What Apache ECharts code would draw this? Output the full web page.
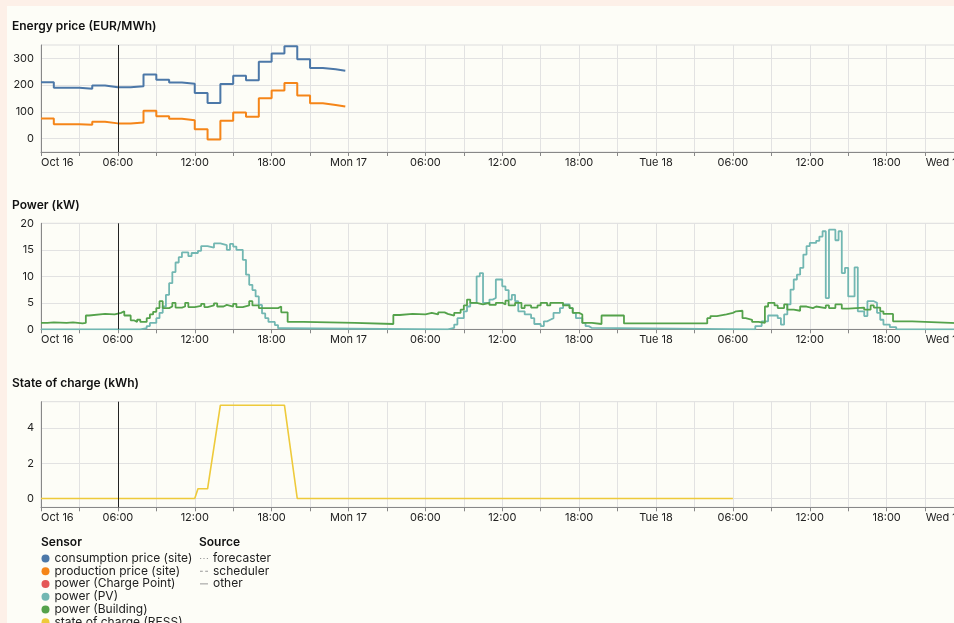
<!DOCTYPE html>
<html>
<head>
<meta charset="utf-8">
<script src="https://cdn.jsdelivr.net/npm/echarts@6/dist/echarts.min.js"></script>
<style>
  html, body { margin: 0; padding: 0; width: 954px; height: 623px; overflow: hidden; background: #fdf0e8; }
  #panel { position: absolute; left: 7px; top: 6px; width: 980px; height: 660px; background: #fdfdf7; }
  #chart { position: absolute; left: 0; top: 0; width: 980px; height: 660px; }
</style>
</head>
<body>
<div id="panel"></div>
<div id="chart"></div>
<script>
// hours since Sun Oct 16 00:00
const dayLabels = ['Oct 16', 'Mon 17', 'Tue 18', 'Wed 19']

// hourly prices (EUR/MWh), 00:00 .. 23:00
const consumptionPrice = [211, 190, 190, 186, 199, 192, 192, 196, 240, 220, 210, 205,
  171, 133, 204, 235, 218, 287, 318, 345, 297, 264, 259, 254]
const productionPrice = [75, 54, 54, 52, 63, 57, 57, 60, 104, 84, 74, 69,
  35, -3, 67, 98, 82, 151, 180, 208, 161, 132, 126, 120]

// [hour, kW] change points
const pvPower = [
  [0, 0], [7.75, 0.2], [8.25, 0.6], [8.5, 1.2], [9, 2.1], [9.25, 3.1], [9.5, 4.3], [9.75, 6.5],
  [10, 8.7], [10.25, 10.8], [10.5, 12.6], [10.75, 13.6], [11, 14.5], [11.5, 13.8], [11.75, 14.4],
  [12.25, 14.8], [12.5, 15.7], [13, 15.4], [13.5, 16.2], [14, 15.9], [14.5, 15.0], [14.75, 16.1],
  [15, 15.6], [15.25, 15.0], [15.75, 13.1], [16, 10.3], [16.25, 8.4], [16.5, 7.4], [16.75, 6.2],
  [17, 4.6], [17.25, 3.0], [17.5, 2.1], [17.75, 1.4], [18.25, 0.8], [18.5, 0.2], [19, 0],
  [31.75, 0.25], [32.25, 0.9], [32.5, 2.1], [33, 3.4], [33.25, 4.3], [33.5, 5.0], [34, 10.0],
  [34.25, 10.6], [34.5, 5.0], [35, 5.6], [35.25, 5.9], [35.5, 9.4], [36, 8.1], [36.25, 7.4],
  [36.5, 5.6], [36.75, 6.5], [37, 5.3], [37.25, 3.4], [37.75, 2.8], [38.25, 2.1], [38.5, 1.0],
  [39, 0.6], [39.25, 1.5], [39.5, 1.8], [39.75, 2.1], [40, 3.1], [40.5, 4.0], [40.75, 4.7],
  [41.25, 4.0], [41.5, 3.1], [41.75, 2.1], [42.25, 1.2], [42.5, 0.6], [42.75, 0.25], [43, 0],
  [55.75, 0.6], [56.25, 1.5], [56.75, 2.6], [57.5, 2.1], [57.75, 0.9], [58, 2.8], [58.25, 4.7],
  [58.5, 7.5], [58.75, 9.4], [59, 10.3], [59.25, 11.6], [59.5, 14.1], [59.75, 15.7], [60, 16.3],
  [60.5, 16.7], [60.75, 17.5], [61, 18.5], [61.25, 5.9], [61.5, 18.8], [62, 16.8], [62.25, 18.5],
  [62.5, 10.6], [62.75, 11.6], [63, 6.2], [63.5, 11.7], [63.75, 3.4], [64.25, 2.5], [64.5, 5.3],
  [65, 5.0], [65.25, 3.1], [65.5, 1.8], [65.75, 0.9], [66.25, 0.4], [66.75, 0], [72, 0]
]
const buildingPower = [
  [0, 1.2], [0.5, 1.3], [1, 1.2], [2, 1.3], [2.5, 1.1], [3.25, 1.2], [3.5, 2.6], [3.75, 2.9],
  [5, 2.8], [5.75, 3.1], [6.25, 3.4], [6.5, 2.6], [7, 1.7], [7.25, 1.4], [7.5, 1.8], [7.75, 1.4],
  [8.25, 2.1], [8.5, 2.8], [8.75, 3.3], [9, 4.0], [9.25, 5.3], [9.5, 4.0], [10, 4.3], [10.25, 5.0],
  [10.5, 4.1], [11, 4.3], [11.25, 5.0], [11.5, 4.2], [12, 4.4], [12.5, 4.8], [12.75, 4.2], [13, 4.5],
  [13.5, 4.9], [13.75, 4.3], [14.25, 4.6], [14.5, 4.3], [15, 4.8], [15.25, 4.2], [15.75, 4.5],
  [16.25, 5.3], [16.5, 4.5], [17, 4.0], [18.5, 4.3], [18.75, 3.2], [19.25, 1.4], [20.5, 1.2],
  [24.5, 1.0], [27.5, 2.7], [28, 2.9], [29, 2.8], [30, 3.1], [30.5, 2.8], [31, 3.2], [31.5, 2.9],
  [31.75, 2.6], [32.25, 3.1], [32.75, 3.7], [33, 4.5], [33.25, 5.6], [33.5, 5.0], [34, 4.7],
  [34.5, 5.0], [35, 4.6], [35.5, 5.0], [36, 4.7], [36.25, 5.4], [36.5, 4.5], [37, 5.0], [37.5, 4.0],
  [37.75, 4.5], [38.25, 4.1], [38.75, 4.5], [39, 5.0], [39.5, 4.5], [39.75, 5.0], [40.75, 4.5],
  [41.25, 4.0], [41.5, 3.1], [42, 2.8], [42.25, 1.2], [43, 1.0], [43.75, 2.6], [45.5, 1.1],
  [52, 2.1], [52.25, 2.5], [52.75, 2.8], [53.5, 3.1], [54, 3.4], [54.25, 3.5], [54.75, 2.1],
  [55, 1.8], [55.5, 1.4], [56, 1.2], [56.5, 4.3], [56.75, 5.0], [57.25, 4.5], [57.5, 4.0],
  [58, 4.7], [58.25, 3.7], [58.75, 3.5], [59.25, 4.3], [59.75, 4.0], [60.25, 4.3], [60.5, 4.0],
  [61.25, 4.5], [61.5, 4.0], [62, 4.7], [62.5, 3.9], [63, 4.1], [64.25, 3.7], [64.75, 4.5],
  [65, 4.1], [65.5, 3.4], [65.75, 2.9], [66.5, 1.5], [68, 1.4], [69, 1.1], [72, 1.1]
]
// [hour, kWh]
const stateOfCharge = [[0, 0], [12, 0], [12.25, 0.55], [13, 0.55], [14, 5.3], [19, 5.3], [20, 0], [54, 0]]

const sensorNames = ['consumption price (site)', 'production price (site)', 'power (Charge Point)',
  'power (PV)', 'power (Building)', 'state of charge (RESS)']
const sourceNames = ['forecaster', 'scheduler', 'other']

const nowHour = 6
const FONT = 'Inter, "Noto Sans", sans-serif'
const GRID_COLOR = '#e2e2e2'

// small line glyphs for the source legend (box 8x8, stroke drawn as thin rects)
const sourceIcons = {
  forecaster: 'path://M0,0M8,8M0,3.5h1.2v1h-1.2zM3.4,3.5h1.2v1h-1.2zM6.8,3.5h1.2v1h-1.2z',
  scheduler: 'path://M0,0M8,8M0,3.5h2.8v1h-2.8zM5.2,3.5h2.8v1h-2.8z',
  other: 'path://M0,0M8,8M0,3.5h8v1h-8z'
}

const hourly = arr => {
  const d = arr.map((v, i) => [i, v])
  d.push([arr.length - 0.25, arr[arr.length - 1]])
  return d
}

function fmtHour(v) {
  if (v % 6 !== 0) return ''
  if (v % 24 === 0) return dayLabels[v / 24]
  const h = v % 24
  return (h < 10 ? '0' : '') + h + ':00'
}

function xAxisFor(i) {
  return {
    type: 'value', gridIndex: i, min: 0, max: 72, interval: 3,
    axisLine: { show: true, onZero: false, lineStyle: { color: '#888' } },
    axisTick: { show: true, length: 4, lineStyle: { color: '#888' } },
    axisLabel: {
      margin: 5, fontSize: 11, color: '#222', fontFamily: FONT,
      showMinLabel: true, showMaxLabel: true,
      alignMinLabel: 'left', alignMaxLabel: 'right',
      formatter: fmtHour
    },
    splitLine: { show: true, lineStyle: { color: GRID_COLOR, width: 1 } }
  }
}

function yAxisFor(i, min, max, interval, labels, lineColors) {
  return {
    type: 'value', gridIndex: i, min: min, max: max, interval: interval,
    axisLine: { show: true, onZero: false, lineStyle: { color: '#888' } },
    axisTick: { show: false },
    axisLabel: {
      margin: 7, fontSize: 11, color: '#222', fontFamily: FONT,
      formatter: v => (labels.indexOf(v) >= 0 ? String(v) : '')
    },
    splitLine: { show: true, lineStyle: { color: lineColors, width: 1 } }
  }
}

const nowLine = {
  silent: true, symbol: 'none', animation: false,
  label: { show: false },
  lineStyle: { color: '#222', width: 1, type: 'solid' },
  data: [{ xAxis: nowHour }]
}

const gridBase = { left: 41, right: 16.5, show: true, borderColor: '#ddd', borderWidth: 1, containLabel: false, outerBoundsMode: 'none' }

const titleStyle = { fontSize: 12, fontWeight: 600, color: '#111', fontFamily: FONT }
const legendText = { fontSize: 12, lineHeight: 12.75, color: '#222', fontFamily: FONT }

const option = {
  animation: false,
  textStyle: { fontFamily: FONT },
  title: [
    { text: 'Energy price (EUR/MWh)', left: 12, top: 20, textStyle: titleStyle, padding: 0 },
    { text: 'Power (kW)', left: 12, top: 199, textStyle: titleStyle, padding: 0 },
    { text: 'State of charge (kWh)', left: 12, top: 377, textStyle: titleStyle, padding: 0 },
    { text: 'Sensor', left: 41, top: 536, textStyle: titleStyle, padding: 0 },
    { text: 'Source', left: 199, top: 536, textStyle: titleStyle, padding: 0 }
  ],
  grid: [
    Object.assign({ top: 45, height: 107 }, gridBase),
    Object.assign({ top: 223.3, height: 106 }, gridBase),
    Object.assign({ top: 401.7, height: 105.6 }, gridBase)
  ],
  xAxis: [xAxisFor(0), xAxisFor(1), xAxisFor(2)],
  yAxis: [
    yAxisFor(0, -50, 350, 50, [0, 100, 200, 300], ['transparent', GRID_COLOR]),
    yAxisFor(1, 0, 20, 5, [0, 5, 10, 15, 20], [GRID_COLOR]),
    yAxisFor(2, -0.5, 5.5, 0.5, [0, 2, 4], ['transparent', GRID_COLOR, 'transparent', 'transparent'])
  ],
  legend: [
    {
      orient: 'vertical', left: 41.5, top: 552, height: 100, selectedMode: false,
      itemWidth: 8, itemHeight: 8, itemGap: 0, padding: 0,
      textStyle: legendText,
      data: sensorNames.map(n => ({ name: n, icon: 'circle' }))
    },
    {
      orient: 'vertical', left: 200, top: 552, height: 100, selectedMode: false,
      itemWidth: 8, itemHeight: 8, itemGap: 0, padding: 0,
      textStyle: legendText,
      data: sourceNames.map(n => ({ name: n, icon: sourceIcons[n] }))
    }
  ],
  series: [
    {
      name: sensorNames[0], type: 'line', step: 'end', xAxisIndex: 0, yAxisIndex: 0,
      data: hourly(consumptionPrice), symbol: 'none', color: '#4c78a8',
      lineStyle: { width: 2 }, markLine: nowLine
    },
    {
      name: sensorNames[1], type: 'line', step: 'end', xAxisIndex: 0, yAxisIndex: 0,
      data: hourly(productionPrice), symbol: 'none', color: '#f58518', lineStyle: { width: 2 }
    },
    {
      name: sensorNames[2], type: 'line', step: 'end', xAxisIndex: 1, yAxisIndex: 1,
      data: [], symbol: 'none', color: '#e45756'
    },
    {
      name: sensorNames[3], type: 'line', step: 'end', xAxisIndex: 1, yAxisIndex: 1,
      data: pvPower, symbol: 'none', color: '#72b7b2',
      lineStyle: { width: 1.8 }, markLine: nowLine
    },
    {
      name: sensorNames[4], type: 'line', step: 'end', xAxisIndex: 1, yAxisIndex: 1,
      data: buildingPower, symbol: 'none', color: '#54a24b', lineStyle: { width: 1.8 }
    },
    {
      name: sensorNames[5], type: 'line', xAxisIndex: 2, yAxisIndex: 2,
      data: stateOfCharge, symbol: 'none', color: '#eeca3b',
      lineStyle: { width: 1.6 }, markLine: nowLine
    },
    {
      name: sourceNames[0], type: 'line', xAxisIndex: 0, yAxisIndex: 0, data: [],
      symbol: 'none', color: '#999'
    },
    {
      name: sourceNames[1], type: 'line', xAxisIndex: 0, yAxisIndex: 0, data: [],
      symbol: 'none', color: '#999'
    },
    {
      name: sourceNames[2], type: 'line', xAxisIndex: 0, yAxisIndex: 0, data: [],
      symbol: 'none', color: '#999'
    }
  ]
}

const chart = echarts.init(document.getElementById('chart'), null, { renderer: 'canvas' })
chart.setOption(option)
</script>
</body>
</html>
